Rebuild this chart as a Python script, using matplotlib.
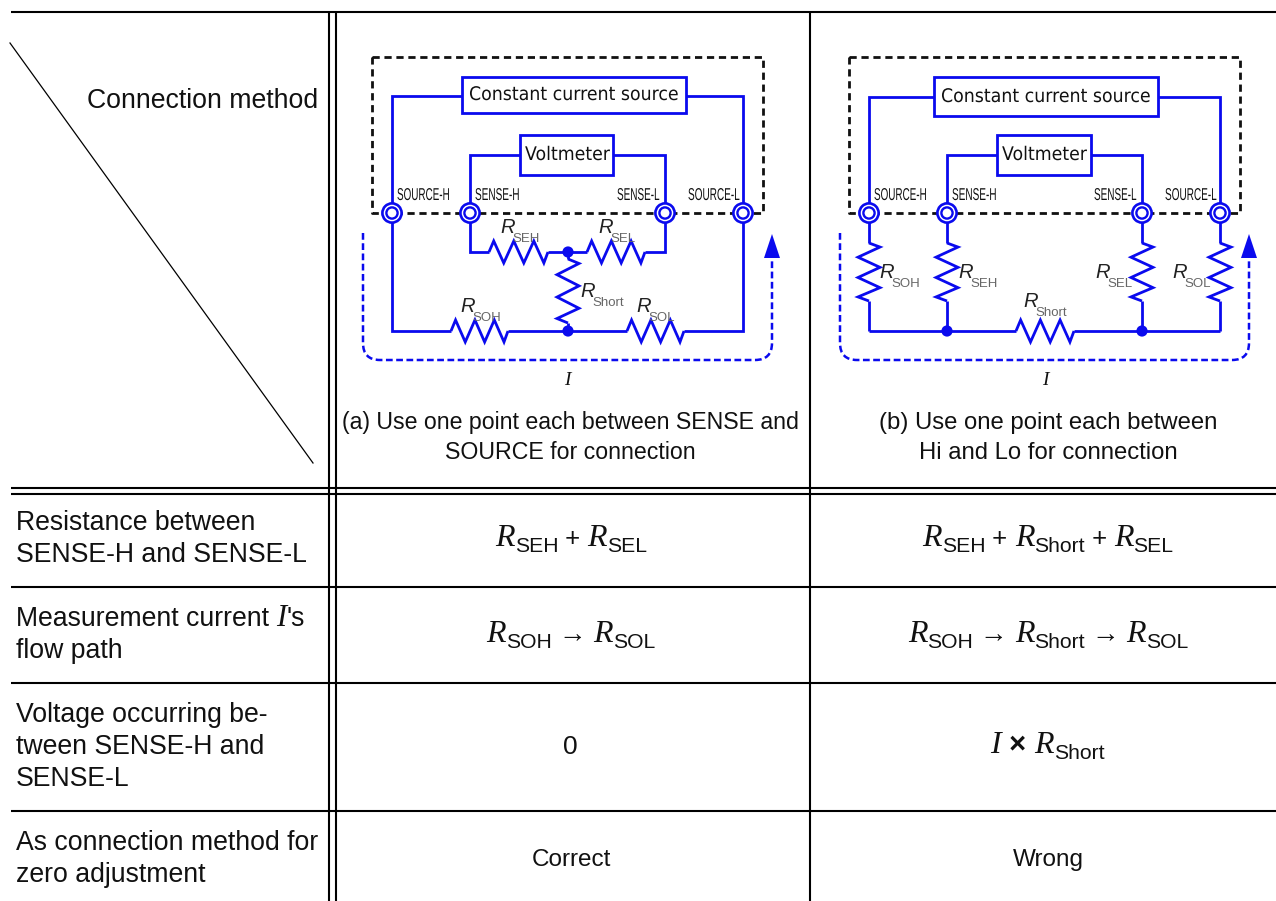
import matplotlib
matplotlib.use("Agg")
import matplotlib.pyplot as plt
from matplotlib.patches import Circle, PathPatch, Polygon, Rectangle
from matplotlib.path import Path
from matplotlib.patheffects import AbstractPathEffect
from matplotlib.transforms import Affine2D

BLUE = "#0a0aee"
SANS = ["Liberation Sans", "DejaVu Sans"]
SERIF = ["Liberation Serif", "DejaVu Serif"]

# table text
row_labels = [
    ["Resistance between", "SENSE-H and SENSE-L"],
    ["Measurement current |I|'s", "flow path"],
    ["Voltage occurring be-", "tween SENSE-H and", "SENSE-L"],
    ["As connection method for", "zero adjustment"],
]
row_baselines = [[530, 562], [626, 658], [722, 754, 786], [850, 882]]
col_a = [
    [("R", "SEH"), " + ", ("R", "SEL")],
    [("R", "SOH"), " \u2192 ", ("R", "SOL")],
]
col_b = [
    [("R", "SEH"), " + ", ("R", "Short"), " + ", ("R", "SEL")],
    [("R", "SOH"), " \u2192 ", ("R", "Short"), " \u2192 ", ("R", "SOL")],
]
captions = [
    ["(a) Use one point each between SENSE and", "SOURCE for connection"],
    ["(b) Use one point each between", "Hi and Lo for connection"],
]

# table rules, pixels
h_rules = [12, 488, 494, 587, 683, 811]
v_rules = [329, 336, 810]

fig = plt.figure(figsize=(12.76, 9.01), dpi=100)
ax = fig.add_axes([0, 0, 1, 1])
ax.set_xlim(0, 1276)
ax.set_ylim(901, 0)
ax.axis("off")


class Squeeze(AbstractPathEffect):
    """Stretch a text around its anchor."""
    def __init__(self, sx, sy=1):
        super().__init__()
        self.sx = sx
        self.sy = sy

    def draw_path(self, renderer, gc, tpath, affine, rgbFace=None):
        renderer.draw_path(gc, tpath, Affine2D().scale(self.sx, self.sy) + affine, rgbFace)


def text_width(t):
    return t.get_window_extent(fig.canvas.get_renderer()).width


def advance(s, **kw):
    # bars keep the width of leading and trailing spaces in the measure
    a = ax.text(0, 0, "|" + s + "|", **kw)
    b = ax.text(0, 0, "||", **kw)
    w = text_width(a) - text_width(b)
    a.remove()
    b.remove()
    return w


def fit_text(x0, x1, y, s, size, family=SANS, color="#111111", sy=1):
    t = ax.text(x0, y, s, fontsize=size, family=family, color=color,
                ha="left", va="baseline")
    t.set_path_effects([Squeeze((x1 - x0) / text_width(t), sy)])
    return t


def runs(x, y, parts, center=False):
    """Lay out (text, family, style, weight, size, dy) pieces one after the other."""
    items = []
    total = 0
    for s, fam, style, weight, size, dy in parts:
        kw = dict(family=fam, style=style, weight=weight, fontsize=size)
        t = ax.text(0, y + dy, s, color="#111111", ha="left", va="baseline", **kw)
        w = advance(s, **kw)
        items.append((t, w))
        total += w
    cur = x - total / 2 if center else x
    for t, w in items:
        t.set_x(cur)
        cur += w


def formula(cx, y, parts):
    out = []
    for p in parts:
        if isinstance(p, tuple):
            out.append((p[0], SERIF, "italic", "normal", 23, 0))
            out.append((p[1], SANS, "normal", "normal", 15.2, 6))
        elif "+" in p:
            out.append((p, SANS, "normal", "normal", 18.5, 0))
        else:
            out.append((p, SERIF, "normal", "normal", 20, 0))
    runs(cx, y, out, center=True)


def wire(xs, ys, **kw):
    ax.plot(xs, ys, color=BLUE, lw=2.0, solid_joinstyle="miter",
            solid_capstyle="butt", zorder=2, **kw)


def res_h(x0, x1, y, amp=11):
    f = [0, .08, .25, .42, .59, .76, .93, 1]
    a = [0, -1, 1, -1, 1, -1, 1, 0]
    wire([x0 + (x1 - x0) * v for v in f], [y + amp * v for v in a])


def res_v(x, y0, y1, amp=11):
    f = [0, .07, .245, .42, .595, .77, .93, 1]
    a = [0, 1, -1, 1, -1, 1, -1, 0]
    wire([x + amp * v for v in a], [y0 + (y1 - y0) * v for v in f])


def box(x0, x1, y0, y1, label, tx0, tx1, base):
    ax.add_patch(Rectangle((x0, y0), x1 - x0, y1 - y0, fc="white", ec=BLUE, lw=2.0, zorder=3))
    t = fit_text(tx0, tx1, base, label, 13.5, family=["DejaVu Sans"])
    t.set_zorder(4)


def terminal(x, y=213):
    ax.add_patch(Circle((x, y), 9.6, fc="white", ec=BLUE, lw=1.9, zorder=5))
    ax.add_patch(Circle((x, y), 5.6, fc="white", ec=BLUE, lw=1.7, zorder=5))


def dot(x, y):
    ax.add_patch(Circle((x, y), 5.6, fc=BLUE, ec=BLUE, lw=0, zorder=5))


def r_label(x, y, sub):
    ax.text(x, y + 6, "R", family=SANS, style="italic", fontsize=14.5, color="#222222",
            ha="center", va="baseline", zorder=6)
    ax.text(x + 4, y + 15, sub, family=SANS, fontsize=9.5, color="#666666",
            ha="left", va="baseline", zorder=6)


def current_loop(x0, x1):
    verts = [(x0, 233), (x0, 343), (x0, 360), (x0 + 17, 360), (x1 - 17, 360),
             (x1, 360), (x1, 343), (x1, 258)]
    codes = [Path.MOVETO, Path.LINETO, Path.CURVE3, Path.CURVE3, Path.LINETO,
             Path.CURVE3, Path.CURVE3, Path.LINETO]
    ax.add_patch(PathPatch(Path(verts, codes), fc="none", ec=BLUE, lw=1.8,
                           ls=(0, (2.7, 1.4)), zorder=2))
    ax.add_patch(Polygon([[x1 - 8, 258], [x1 + 8, 258], [x1, 234]], fc=BLUE, ec=BLUE, lw=0, zorder=3))


def circuit_common(dx, ccs_box, ccs_text, vm_box, vm_text, labels):
    # dashed enclosure
    x0, x1 = 372 + dx, 763 + dx
    ax.plot([x0, x1, x1, x0, x0], [57, 57, 213, 213, 57], color="#111111", lw=2.0,
            ls=(0, (2.6, 1.7)), zorder=1)
    t1, t2, t3, t4 = [v + dx for v in (392, 470, 665, 743)]
    wire([t1, t1, ccs_box[0]], [213, ccs_box[2], ccs_box[2]])
    wire([ccs_box[1], t4, t4], [ccs_box[2], ccs_box[2], 213])
    wire([t2, t2, vm_box[0]], [213, 155, 155])
    wire([vm_box[1], t3, t3], [155, 155, 213])
    box(ccs_box[0], ccs_box[1], 77, ccs_box[3], "Constant current source", *ccs_text)
    box(vm_box[0], vm_box[1], 135, 175, "Voltmeter", *vm_text)
    for x in (t1, t2, t3, t4):
        terminal(x)
    for s, a, b in labels:
        t = fit_text(a, b, 200, s, 9.5, family=SANS, sy=1.3)
        t.set_zorder(4)
    ax.text(567 + dx + (1 if dx else 0), 385, "I", family=SERIF, style="italic", fontsize=14,
            color="#111111", ha="center", va="baseline")
    current_loop(363 + dx, 772 + dx)


# table rules
for y in h_rules:
    ax.plot([11, 1276], [y, y], color="black", lw=1.5, solid_capstyle="butt", zorder=1)
for x in v_rules:
    ax.plot([x, x], [12, 901], color="black", lw=1.5, solid_capstyle="butt", zorder=1)
ax.plot([10, 313], [43, 463], color="black", lw=0.9, zorder=1)

# header
ax.text(87, 108, "Connection method", family=SANS, fontsize=19.2, color="#111111", va="baseline")

# row labels
for lines, bases in zip(row_labels, row_baselines):
    for line, b in zip(lines, bases):
        if "|" in line:
            head, it, tail = line.split("|")
            runs(16, b, [(head, SANS, "normal", "normal", 19.2, 0),
                         (it, SERIF, "italic", "normal", 22, 0),
                         (tail, SANS, "normal", "normal", 19.2, 0)])
        else:
            ax.text(16, b, line, family=SANS, fontsize=19.2, color="#111111", va="baseline")

# captions
for cx, lines, size in zip([570, 1048], captions, [16.7, 17.2]):
    for line, b in zip(lines, [429, 459]):
        ax.text(cx, b, line, family=SANS, fontsize=size, color="#111111", ha="center", va="baseline")

# formula cells
for parts, b in zip(col_a, [546, 642]):
    formula(571, b, parts)
for parts, b in zip(col_b, [546, 642]):
    formula(1048, b, parts)
ax.text(570, 754, "0", family=SANS, fontsize=19, color="#111111", ha="center", va="baseline")
runs(1047.5, 753, [("I", SERIF, "italic", "normal", 23, 0), (" \u00d7 ", SANS, "normal", "bold", 21, 0),
                   ("R", SERIF, "italic", "normal", 23, 0), ("Short", SANS, "normal", "normal", 15.2, 6)],
     center=True)
ax.text(571, 866, "Correct", family=SANS, fontsize=17.5, color="#111111", ha="center", va="baseline")
ax.text(1048, 866, "Wrong", family=SANS, fontsize=17.5, color="#111111", ha="center", va="baseline")

# circuit (a)
circuit_common(0, (462, 686, 96, 113), (469, 679, 100), (520, 613, 0, 0), (525, 610, 160), [
    ("SOURCE-H", 397, 450), ("SENSE-H", 475, 520), ("SENSE-L", 617, 660), ("SOURCE-L", 688, 740)])
wire([470, 470, 489], [213, 252, 252])
res_h(489, 548, 252)
wire([548, 587], [252, 252])
res_h(587, 645, 252)
wire([645, 665, 665], [252, 252, 213])
wire([392, 392, 451], [213, 331, 331])
res_h(451, 508, 331)
wire([508, 627], [331, 331])
res_h(627, 684, 331)
wire([684, 743, 743], [331, 331, 213])
wire([568, 568], [252, 259])
res_v(568, 259, 323)
wire([568, 568], [323, 331])
dot(568, 252)
dot(568, 331)
r_label(508, 227, "SEH")
r_label(606, 227, "SEL")
r_label(588, 291, "Short")
r_label(468, 306, "SOH")
r_label(644, 306, "SOL")

# circuit (b)
circuit_common(477, (934, 1158, 97, 116), (941, 1151, 102), (997, 1091, 0, 0), (1002, 1087, 160), [
    ("SOURCE-H", 874, 927), ("SENSE-H", 952, 997), ("SENSE-L", 1094, 1137), ("SOURCE-L", 1165, 1217)])
for x in (869, 947, 1142, 1220):
    wire([x, x], [213, 243])
    res_v(x, 243, 301)
    wire([x, x], [301, 331])
wire([869, 1016], [331, 331])
res_h(1016, 1074, 331)
wire([1074, 1220], [331, 331])
dot(947, 331)
dot(1142, 331)
r_label(887, 272, "SOH")
r_label(966, 272, "SEH")
r_label(1103, 272, "SEL")
r_label(1180, 272, "SOL")
r_label(1031, 301, "Short")

fig.savefig("out.png", dpi=100)
